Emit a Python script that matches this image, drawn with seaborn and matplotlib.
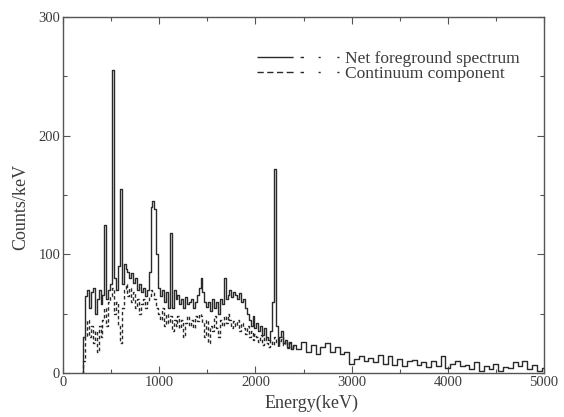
import numpy as np
import pandas as pd
import matplotlib
matplotlib.use("Agg")
import matplotlib.pyplot as plt
from matplotlib.lines import Line2D
from matplotlib.ticker import MultipleLocator
import seaborn as sns

# Energy grids (keV): 20 keV bins in the line region, 50 keV bins in the tail
energy_low = np.arange(200, 2401, 20)
energy_tail = np.arange(2450, 5001, 50)

# Net foreground spectrum, counts/keV
net_low = [
    0, 30, 65, 70, 55, 68, 72, 50, 62, 70,
    58, 66, 125, 62, 70, 75, 255, 80, 70, 90,
    155, 75, 92, 88, 85, 80, 84, 76, 80, 70,
    75, 68, 72, 65, 70, 85, 140, 145, 138, 100,
    72, 65, 70, 60, 68, 55, 118, 55, 70, 62,
    66, 58, 62, 55, 64, 58, 60, 62, 55, 60,
    66, 72, 80, 68, 60, 56, 60, 52, 62, 55,
    60, 50, 62, 58, 80, 62, 66, 70, 64, 68,
    66, 62, 67, 60, 62, 55, 50, 45, 40, 48,
    38, 42, 35, 40, 32, 38, 30, 28, 35, 60,
    172, 40, 25, 30, 35, 25, 28, 22, 26, 20,
    24,
]
net_tail = [
    20, 26, 18, 24, 16, 22, 25, 18, 22, 16,
    18, 8, 12, 14, 10, 13, 9, 15, 8, 14,
    7, 12, 6, 10, 11, 7, 9, 5, 10, 6,
    14, 4, 8, 10, 6, 7, 3, 9, 2, 6,
    3, 8, 2, 5, 4, 9, 6, 10, 3, 7,
    2, 4,
]

# Continuum component, counts/keV
continuum_low = [
    0, 10, 30, 45, 30, 40, 25, 35, 18, 40,
    30, 45, 55, 40, 60, 65, 72, 50, 60, 40,
    25, 55, 70, 75, 65, 72, 60, 68, 55, 62,
    50, 58, 62, 55, 60, 65, 70, 68, 62, 55,
    50, 45, 55, 40, 50, 42, 48, 35, 45, 40,
    48, 38, 45, 30, 42, 48, 40, 45, 38, 48,
    44, 50, 48, 42, 30, 45, 25, 40, 35, 48,
    38, 30, 45, 40, 48, 42, 50, 45, 38, 44,
    40, 45, 35, 42, 38, 33, 40, 30, 35, 28,
    33, 30, 26, 32, 24, 30, 25, 22, 28, 24,
    30, 26, 22, 27, 30, 24, 27, 21, 25, 20,
    23,
]

net_df = pd.DataFrame({
    "Energy": np.concatenate([energy_low, energy_tail]),
    "Counts": net_low + net_tail,
})
cont_df = pd.DataFrame({"Energy": energy_low, "Counts": continuum_low})

sns.set_theme(style="ticks")
plt.rcParams["font.family"] = ["Liberation Serif", "DejaVu Serif"]
plt.rcParams["xtick.direction"] = "in"
plt.rcParams["ytick.direction"] = "in"

ink = "#2a2a2a"
text_col = "#3c3c3c"

fig = plt.figure(figsize=(5.64, 4.17), dpi=100)
ax = fig.add_axes([63 / 564, 44 / 417, 481 / 564, 356 / 417])

sns.lineplot(data=net_df, x="Energy", y="Counts", ax=ax, color=ink,
             linewidth=1.0, drawstyle="steps-mid", estimator=None)
sns.lineplot(data=cont_df, x="Energy", y="Counts", ax=ax, color=ink,
             linewidth=1.0, linestyle=(0, (2.5, 1.8)), drawstyle="steps-mid",
             estimator=None)

ax.set_xlim(0, 5000)
ax.set_ylim(0, 300)
ax.xaxis.set_major_locator(MultipleLocator(1000))
ax.xaxis.set_minor_locator(MultipleLocator(500))
ax.yaxis.set_major_locator(MultipleLocator(100))
ax.yaxis.set_minor_locator(MultipleLocator(50))
ax.tick_params(which="both", top=True, right=True, colors="#555555",
               labelcolor=text_col, labelsize=10.5, pad=2, width=0.8)
ax.tick_params(which="major", length=5)
ax.tick_params(which="minor", length=3)
for s in ax.spines.values():
    s.set_color("#555555")
    s.set_linewidth(1.0)

ax.set_xlabel("Energy(keV)", fontsize=13, color=text_col)
ax.set_ylabel("Counts/keV", fontsize=13, color=text_col)
ax.xaxis.set_label_coords(0.516, -0.062)
ax.yaxis.set_label_coords(-0.071, 0.466)

# Legend keys: line sample followed by a dotted leader
handles = [
    Line2D([], [], color=ink, linewidth=1.0,
           linestyle=(0, (26, 5, 2.5, 10.5, 1.5, 12, 1.5, 60))),
    Line2D([], [], color=ink, linewidth=1.0,
           linestyle=(0, (4.5, 2.5, 4.5, 2.5, 4.5, 2.5, 5, 5, 2.5, 10.5,
                          1.5, 12, 1.5, 60))),
]
ax.legend(handles, ["Net foreground spectrum", "Continuum component"],
          loc="upper left", bbox_to_anchor=(0.403, 0.905), frameon=False,
          fontsize=12.5, handlelength=4.8, handletextpad=0.25,
          labelspacing=-0.06, borderpad=0, borderaxespad=0,
          labelcolor=text_col)

fig.savefig("out.png", dpi=100, facecolor="white")
